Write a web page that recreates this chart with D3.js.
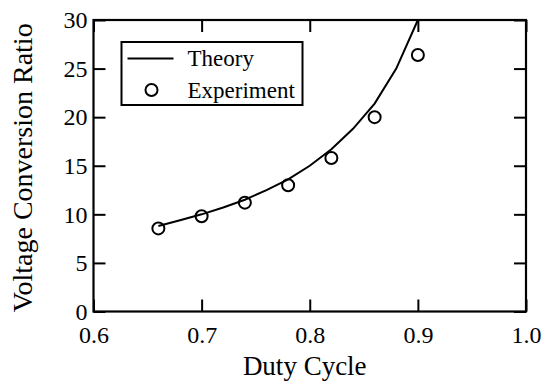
<!DOCTYPE html>
<html>
<head>
<meta charset="utf-8">
<script src="https://cdn.jsdelivr.net/npm/d3@7"></script>
<style>
    body { margin: 0; background: #fff; }
</style>
</head>
<body>
<div id="chart"></div>
<script>
// theory curve (duty cycle, ratio)
var theoryDuty = [0.66, 0.68, 0.70, 0.72, 0.74, 0.76, 0.78, 0.80, 0.82, 0.84, 0.86, 0.88, 0.90];
var theoryRatio = [8.8, 9.4, 10.0, 10.7, 11.5, 12.5, 13.6, 15.0, 16.7, 18.8, 21.4, 25.0, 30.0];

// measured points
var expDuty = [0.66, 0.70, 0.74, 0.78, 0.82, 0.86, 0.90];
var expRatio = [8.55, 9.8, 11.2, 13.0, 15.8, 20.0, 26.4];

var xTicks = [0.6, 0.7, 0.8, 0.9, 1.0];
var yTicks = [0, 5, 10, 15, 20, 25, 30];

var serif = "'Liberation Serif', 'Times New Roman', Times, serif";

var margin = {top: 20, right: 24, bottom: 74.5, left: 93.5};
var width = 550 - margin.left - margin.right;
var height = 386 - margin.top - margin.bottom;

var svg = d3.select("#chart").append("svg")
    .attr("width", 550)
    .attr("height", 386)
    .append("g")
    .attr("transform", "translate(" + margin.left + "," + margin.top + ")");

var xScale = d3.scaleLinear().domain([0.6, 1.0]).range([0, width]);
var yScale = d3.scaleLinear().domain([0, 30]).range([height, 0]);

var tickLen = 12;

// axes with inward ticks on all four sides
svg.append("g")
    .attr("transform", "translate(0," + height + ")")
    .call(d3.axisBottom(xScale).tickValues(xTicks).tickSize(-tickLen).tickPadding(14)
        .tickFormat(d3.format(".1f")))
    .call(styleAxis);

svg.append("g")
    .call(d3.axisTop(xScale).tickValues(xTicks).tickSize(-tickLen).tickFormat(""))
    .call(styleAxis);

svg.append("g")
    .call(d3.axisLeft(yScale).tickValues(yTicks).tickSize(-tickLen).tickPadding(6))
    .call(styleAxis);

svg.append("g")
    .attr("transform", "translate(" + width + ",0)")
    .call(d3.axisRight(yScale).tickValues(yTicks).tickSize(-tickLen).tickFormat(""))
    .call(styleAxis);

function styleAxis(g) {
    g.attr("font-family", serif).attr("font-size", 24);
    g.select(".domain").remove();
    g.selectAll(".tick line").attr("stroke", "#000").attr("stroke-width", 2);
    g.selectAll(".tick text").attr("fill", "#000");
}

// frame
svg.append("rect")
    .attr("width", width)
    .attr("height", height)
    .attr("fill", "none")
    .attr("stroke", "#000")
    .attr("stroke-width", 2.2);

// theory line
var line = d3.line()
    .x(function(d) { return xScale(d[0]); })
    .y(function(d) { return yScale(d[1]); });

svg.append("path")
    .datum(d3.zip(theoryDuty, theoryRatio))
    .attr("fill", "none")
    .attr("stroke", "#000")
    .attr("stroke-width", 2)
    .attr("d", line);

// experiment circles
svg.selectAll(".exp-point")
    .data(d3.zip(expDuty, expRatio))
    .enter().append("circle")
    .attr("class", "exp-point")
    .attr("cx", function(d) { return xScale(d[0]); })
    .attr("cy", function(d) { return yScale(d[1]); })
    .attr("r", 6)
    .attr("fill", "none")
    .attr("stroke", "#000")
    .attr("stroke-width", 2);

// legend
var legend = svg.append("g").attr("transform", "translate(28,22)")
    .attr("font-family", serif);
legend.append("rect")
    .attr("width", 181)
    .attr("height", 63)
    .attr("fill", "#fff")
    .attr("stroke", "#000")
    .attr("stroke-width", 2);
legend.append("line")
    .attr("x1", 6).attr("x2", 52)
    .attr("y1", 16.5).attr("y2", 16.5)
    .attr("stroke", "#000").attr("stroke-width", 2);
legend.append("circle")
    .attr("cx", 30).attr("cy", 48).attr("r", 6)
    .attr("fill", "none").attr("stroke", "#000").attr("stroke-width", 2);
legend.append("text")
    .attr("x", 66).attr("y", 24)
    .attr("font-size", 23)
    .text("Theory");
legend.append("text")
    .attr("x", 66).attr("y", 56)
    .attr("font-size", 23)
    .text("Experiment");

// axis titles
svg.append("text")
    .attr("x", width / 2 - 5)
    .attr("y", height + 63)
    .attr("text-anchor", "middle")
    .attr("font-family", serif)
    .attr("font-size", 27)
    .text("Duty Cycle");

svg.append("text")
    .attr("transform", "translate(" + (-62) + "," + (height / 2 + 2) + ") rotate(-90)")
    .attr("text-anchor", "middle")
    .attr("font-family", serif)
    .attr("font-size", 28)
    .text("Voltage Conversion Ratio");
</script>
</body>
</html>
